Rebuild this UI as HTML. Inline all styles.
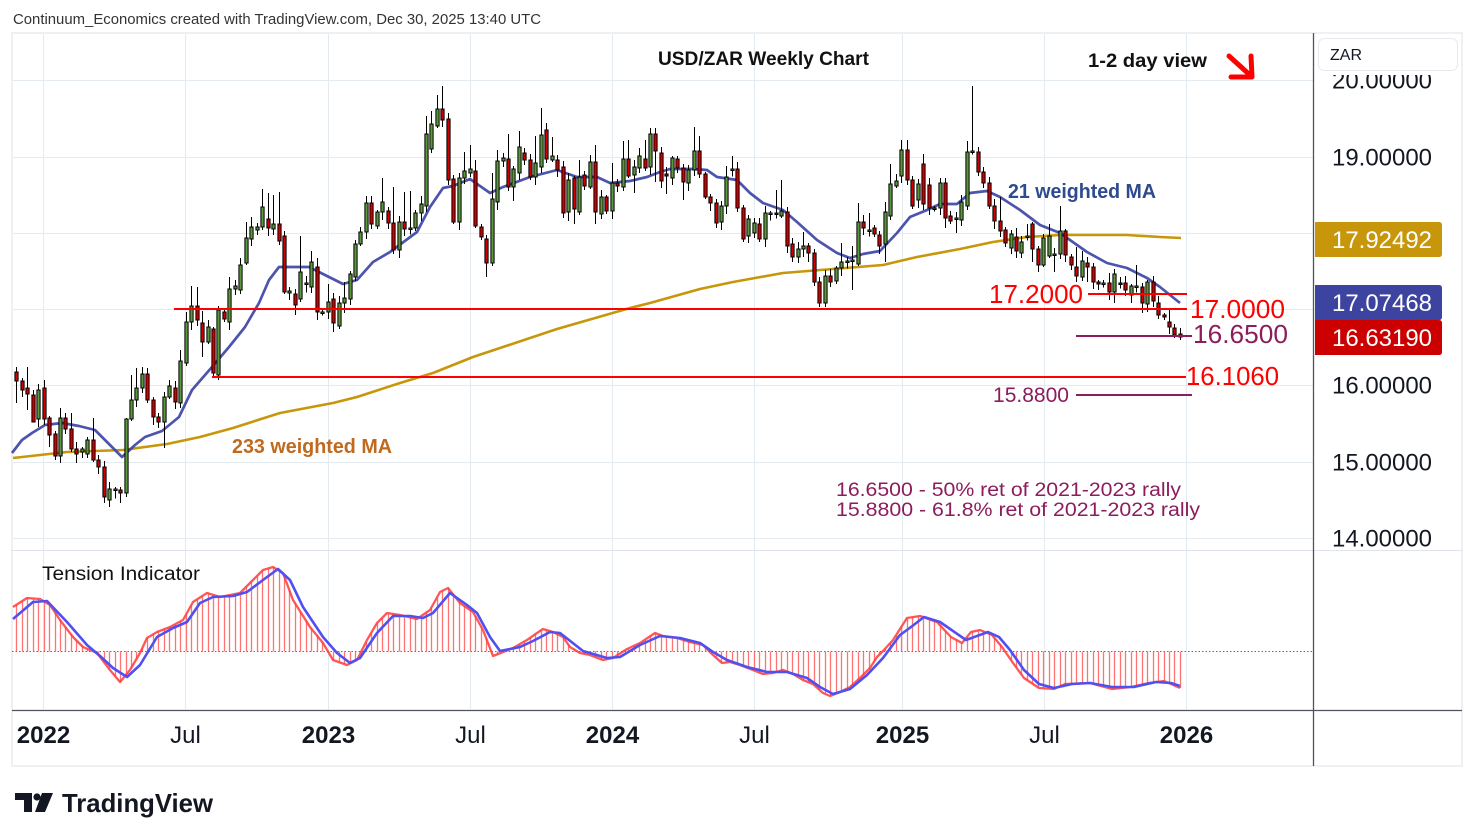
<!DOCTYPE html>
<html><head><meta charset="utf-8"><style>
html,body{margin:0;padding:0;background:#fff;}
svg{display:block;font-family:"Liberation Sans",Arial,sans-serif;}
</style></head><body>
<svg id="s" width="1474" height="840" viewBox="0 0 1474 840" xmlns="http://www.w3.org/2000/svg">
<rect width="1474" height="840" fill="#fff"/>
<rect x="12" y="33" width="1450" height="733" fill="none" stroke="#eef0f3" stroke-width="2"/>
<g stroke="#e3ebf1" stroke-width="1">
<line x1="13" y1="80.5" x2="1313" y2="80.5"/>
<line x1="13" y1="157.5" x2="1313" y2="157.5"/>
<line x1="13" y1="233.5" x2="1313" y2="233.5"/>
<line x1="13" y1="309.5" x2="1313" y2="309.5"/>
<line x1="13" y1="385.5" x2="1313" y2="385.5"/>
<line x1="13" y1="462.5" x2="1313" y2="462.5"/>
<line x1="13" y1="538.5" x2="1313" y2="538.5"/>
<line x1="43.5" y1="34" x2="43.5" y2="710"/>
<line x1="185.5" y1="34" x2="185.5" y2="710"/>
<line x1="328.5" y1="34" x2="328.5" y2="710"/>
<line x1="470.5" y1="34" x2="470.5" y2="710"/>
<line x1="612.5" y1="34" x2="612.5" y2="710"/>
<line x1="754.5" y1="34" x2="754.5" y2="710"/>
<line x1="902.5" y1="34" x2="902.5" y2="710"/>
<line x1="1044.5" y1="34" x2="1044.5" y2="710"/>
<line x1="1186.5" y1="34" x2="1186.5" y2="710"/>
</g>
<line x1="12" y1="550.5" x2="1462" y2="550.5" stroke="#e0e3eb" stroke-width="1"/>

<!-- moving averages -->
<polyline fill="none" stroke="#c8960a" stroke-width="2.6" stroke-linejoin="round" points="13,458 67,452 123,450 167,444 200,437 233,428 280,413 333,403 357,397 400,383 433,373 473,357 500,348 557,329 630,308 650,303 700,289 733,282 783,273 833,269 883,265 917,257 960,249 993,242 1027,237 1060,235 1093,235 1127,235 1160,237 1181,238"/>
<polyline fill="none" stroke="#3d45a5" stroke-opacity="0.92" stroke-width="2.7" stroke-linejoin="round" points="12,453 22,440 32,433 45,425 62,423 79,426 95,430 112,447 122,457 135,445 145,437 162,431 179,417 192,390 212,367 229,347 245,327 259,303 269,280 279,267 299,267 309,267 329,277 343,284 357,280 373,262 390,252 417,232 430,207 443,188 453,186 470,179 480,186 490,193 503,187 530,177 557,170 577,177 597,177 610,183 630,181 647,177 660,172 670,169 693,169 707,170 717,177 737,180 750,193 763,203 783,210 797,222 817,240 837,253 850,258 863,254 880,251 897,233 910,217 927,210 940,204 957,204 970,193 987,191 1000,197 1020,210 1040,225 1060,233 1087,252 1107,263 1127,268 1147,278 1160,287 1180,303"/>

<!-- candles -->
<path id="wk" fill="none" stroke="#000" stroke-width="1" d=""/>
<path id="gb" fill="#5b9a3c" stroke="#000" stroke-width="1" d=""/>
<path id="rb" fill="#d00000" stroke="#000" stroke-width="1" d=""/>

<!-- horizontal levels -->
<g stroke-width="2">
<line x1="174" y1="309" x2="1187" y2="309" stroke="#ff0000"/>
<line x1="212" y1="377" x2="1186" y2="377" stroke="#ff0000"/>
<line x1="1088" y1="294" x2="1187" y2="294" stroke="#ff0000"/>
<line x1="1076" y1="336" x2="1192" y2="336" stroke="#8c1d5c"/>
<line x1="1076" y1="395" x2="1192" y2="395" stroke="#8c1d5c"/>
</g>
<text x="989" y="303" font-size="26" fill="#ff0000" textLength="94" lengthAdjust="spacingAndGlyphs">17.2000</text>
<text x="1190" y="318" font-size="26" fill="#ff0000" textLength="95" lengthAdjust="spacingAndGlyphs">17.0000</text>
<text x="1193" y="343" font-size="26" fill="#8c1d5c" textLength="95" lengthAdjust="spacingAndGlyphs">16.6500</text>
<text x="1186" y="385" font-size="26" fill="#ff0000" textLength="93" lengthAdjust="spacingAndGlyphs">16.1060</text>
<text x="993" y="402" font-size="21" fill="#8c1d5c" textLength="76" lengthAdjust="spacingAndGlyphs">15.8800</text>

<!-- annotations -->
<text x="13" y="24" font-size="15" fill="#333" textLength="528" lengthAdjust="spacingAndGlyphs">Continuum_Economics created with TradingView.com, Dec 30, 2025 13:40 UTC</text>
<text x="658" y="65" font-size="19" font-weight="bold" fill="#111" textLength="211" lengthAdjust="spacingAndGlyphs">USD/ZAR Weekly Chart</text>
<text x="1088" y="67" font-size="19" font-weight="bold" fill="#111" textLength="119" lengthAdjust="spacingAndGlyphs">1-2 day view</text>
<g stroke="#ff0000" stroke-width="5" stroke-linecap="round" stroke-linejoin="round" fill="none">
<line x1="1229" y1="56" x2="1251" y2="76"/>
<polyline points="1251,56 1252,77 1231,77"/>
</g>
<text x="1008" y="198" font-size="20" font-weight="bold" fill="#2e4b8f" textLength="148" lengthAdjust="spacingAndGlyphs">21 weighted MA</text>
<text x="232" y="453" font-size="20" font-weight="bold" fill="#bf6a1f" textLength="160" lengthAdjust="spacingAndGlyphs">233 weighted MA</text>
<text x="836" y="496" font-size="19" fill="#8c1d5c" textLength="345" lengthAdjust="spacingAndGlyphs">16.6500 - 50% ret of 2021-2023 rally</text>
<text x="836" y="516" font-size="19" fill="#8c1d5c" textLength="364" lengthAdjust="spacingAndGlyphs">15.8800 - 61.8% ret of 2021-2023 rally</text>

<!-- tension indicator -->
<line x1="12" y1="651.5" x2="1313" y2="651.5" stroke="#ff3030" stroke-width="1" stroke-dasharray="1.5,2"/>
<path id="hb" fill="none" stroke="#ff5050" stroke-opacity="0.8" stroke-width="1.3" d=""/>
<polyline id="tr" fill="none" stroke="#ff3a3a" stroke-opacity="0.85" stroke-width="2.3" stroke-linejoin="round" points="13,607 27,598 40,599 50,605 60,620 73,637 83,647 97,653 110,670 120,682 130,670 140,653 147,638 157,632 170,627 183,620 193,602 207,593 220,597 240,593 253,580 263,570 273,567 283,573 293,600 310,627 323,643 333,660 347,665 357,660 367,640 377,623 387,613 400,615 417,619 430,610 440,592 448,588 460,603 473,612 483,630 493,656 503,652 513,648 527,640 537,633 543,629 553,632 563,637 570,647 580,653 590,655 603,660 613,658 627,649 640,643 655,633 663,636 677,638 690,642 703,645 713,655 722,663 730,662 740,665 753,670 763,674 773,673 783,670 793,674 803,680 813,684 823,693 830,696 840,692 850,687 860,678 870,668 877,657 883,651 893,640 907,618 920,616 937,622 951,637 962,643 971,632 980,630 992,635 1002,647 1013,663 1024,678 1039,688 1054,689 1065,684 1090,683 1112,689 1131,687 1149,683 1164,681 1180,688"/>
<polyline fill="none" stroke="#4f4ff2" stroke-width="2.6" stroke-linejoin="round" points="13,619 33,602 47,601 67,622 87,645 100,656 113,668 127,677 140,665 157,637 173,628 187,622 200,603 213,597 233,596 247,592 263,580 278,569 290,580 303,607 323,637 337,653 350,663 360,658 377,633 393,616 410,616 423,618 433,613 450,593 467,605 477,613 490,637 500,651 520,647 533,641 550,632 560,633 583,651 607,658 620,657 640,645 660,636 680,638 700,643 713,652 727,660 747,667 767,672 787,672 807,678 820,687 833,694 850,689 867,675 883,658 900,635 911,627 924,617 940,622 966,640 988,632 999,637 1010,650 1024,670 1039,684 1054,688 1072,684 1090,683 1112,687 1134,687 1156,682 1171,683 1180,686"/>
<text x="42" y="580" font-size="19" fill="#111" textLength="158" lengthAdjust="spacingAndGlyphs">Tension Indicator</text>

<!-- axes -->
<line x1="1313.5" y1="33" x2="1313.5" y2="766" stroke="#50535e" stroke-width="1.3"/>
<line x1="12" y1="710.5" x2="1462" y2="710.5" stroke="#50535e" stroke-width="1.3"/>

<g font-size="24" fill="#131722" text-anchor="middle">
<text x="43.5" y="743" font-weight="bold">2022</text>
<text x="185.5" y="743">Jul</text>
<text x="328.5" y="743" font-weight="bold">2023</text>
<text x="470.5" y="743">Jul</text>
<text x="612.5" y="743" font-weight="bold">2024</text>
<text x="754.5" y="743">Jul</text>
<text x="902.5" y="743" font-weight="bold">2025</text>
<text x="1044.5" y="743">Jul</text>
<text x="1186.5" y="743" font-weight="bold">2026</text>
</g>

<g font-size="24" fill="#131722">
<text x="1332" y="88.5" textLength="100" lengthAdjust="spacingAndGlyphs">20.00000</text>
<text x="1332" y="165.5" textLength="100" lengthAdjust="spacingAndGlyphs">19.00000</text>
<text x="1332" y="393.5" textLength="100" lengthAdjust="spacingAndGlyphs">16.00000</text>
<text x="1332" y="470.5" textLength="100" lengthAdjust="spacingAndGlyphs">15.00000</text>
<text x="1332" y="546.5" textLength="100" lengthAdjust="spacingAndGlyphs">14.00000</text>
</g>
<rect x="1316" y="36" width="144" height="39" fill="#fff"/>
<rect x="1318.5" y="38.5" width="139" height="32" rx="6" fill="#fff" stroke="#e6e8ee"/>
<text x="1330" y="60" font-size="16" fill="#131722">ZAR</text>

<path d="M1315,222 H1439 Q1442,222 1442,225 V254 Q1442,257 1439,257 H1315 Z" fill="#c8960a"/>
<path d="M1315,285 H1439 Q1442,285 1442,288 V317 Q1442,320 1439,320 H1315 Z" fill="#3d44a0"/>
<path d="M1315,320 H1439 Q1442,320 1442,323 V352 Q1442,355 1439,355 H1315 Z" fill="#cc0000"/>
<g font-size="24" fill="#fff">
<text x="1332" y="248" textLength="100" lengthAdjust="spacingAndGlyphs">17.92492</text>
<text x="1332" y="311" textLength="100" lengthAdjust="spacingAndGlyphs">17.07468</text>
<text x="1332" y="346" textLength="100" lengthAdjust="spacingAndGlyphs">16.63190</text>
</g>

<!-- logo -->
<g fill="#131722">
<path d="M15,793 H32 V812 H24 V800 H15 Z"/>
<circle cx="37" cy="797" r="3.6"/>
<path d="M42,793 H53 L45,812 H35 Z"/>
<text x="62" y="812" font-size="26" font-weight="bold" textLength="151" lengthAdjust="spacingAndGlyphs">TradingView</text>
</g>
</svg>
<script>
(function(){
var C=[[372,381,'r'],[381,390,'r'],[388,394,'r'],[395,422,'r'],[390,419,'g'],[388,419,'r'],[418,435,'r'],[434,456,'r'],[418,456,'g'],[418,429,'r'],
[429,449,'r'],[449,454,'r'],[449,452,'g'],[440,454,'g'],[440,460,'r'],[460,467,'r'],[467,497,'r'],[489,500,'g'],[489,490,'g'],[490,493,'r'],
[419,493,'g'],[400,419,'g'],[388,400,'g'],[374,388,'g'],[374,400,'r'],[400,417,'r'],[417,422,'r'],[397,422,'g'],[386,397,'g'],[388,402,'r'],
[361,403,'g'],[322,363,'g'],[306,322,'g'],[306,320,'r'],[323,342,'r'],[327,342,'g'],[329,373,'r'],[310,375,'g'],[312,319,'r'],[289,322,'g'],
[286,289,'g'],[265,290,'g'],[238,263,'g'],[227,239,'g'],[227,230,'g'],[207,227,'g'],[219,228,'r'],[224,229,'g'],[224,241,'r'],[236,292,'r'],
[291,293,'g'],[294,305,'r'],[272,299,'g'],[283,284,'g'],[262,287,'g'],[267,312,'r'],[312,313,'g'],[302,312,'g'],[299,323,'r'],[303,326,'g'],
[298,303,'g'],[274,299,'g'],[244,277,'g'],[232,244,'g'],[203,232,'g'],[203,224,'r'],[212,226,'g'],[202,212,'g'],[211,223,'r'],[223,250,'r'],
[222,250,'g'],[222,229,'r'],[228,229,'g'],[213,228,'g'],[204,213,'g'],[134,206,'g'],[124,149,'g'],[109,126,'g'],[109,120,'r'],[119,180,'r'],
[179,222,'r'],[178,222,'g'],[171,178,'g'],[169,173,'g'],[171,226,'r'],[227,237,'r'],[239,263,'r'],[199,263,'g'],[161,202,'g'],[158,161,'g'],
[159,187,'r'],[169,187,'g'],[147,173,'g'],[153,160,'r'],[160,177,'r'],[163,177,'g'],[135,167,'g'],[130,159,'r'],[156,160,'g'],[160,170,'r'],
[167,213,'r'],[180,212,'g'],[178,209,'r'],[177,212,'g'],[175,186,'r'],[162,187,'g'],[162,212,'r'],[197,214,'g'],[197,211,'r'],[183,211,'g'],
[183,186,'r'],[159,187,'g'],[159,176,'r'],[167,175,'g'],[156,168,'g'],[159,168,'r'],[134,167,'g'],[134,151,'r'],[153,181,'r'],[174,176,'r'],
[158,178,'g'],[159,168,'r'],[168,182,'r'],[170,183,'g'],[151,170,'g'],[151,174,'r'],[174,197,'r'],[197,203,'r'],[203,223,'r'],[206,222,'g'],
[177,206,'g'],[169,170,'g'],[169,208,'r'],[208,239,'r'],[219,236,'g'],[223,233,'g'],[224,239,'r'],[213,239,'g'],[213,214,'g'],[213,214,'r'],
[211,216,'g'],[212,246,'r'],[244,257,'r'],[249,257,'g'],[246,249,'g'],[246,253,'r'],[253,282,'r'],[282,303,'r'],[276,303,'g'],[276,282,'r'],
[268,281,'g'],[262,268,'g'],[261,262,'g'],[260,261,'g'],[222,264,'g'],[222,228,'r'],[230,231,'g'],[228,234,'r'],[235,246,'r'],[212,244,'g'],
[184,216,'g'],[181,186,'g'],[150,176,'g'],[150,180,'r'],[180,206,'r'],[184,200,'g'],[164,204,'r'],[185,208,'r'],[208,209,'g'],[183,208,'g'],
[183,218,'r'],[216,221,'r'],[218,219,'g'],[202,220,'g'],[152,206,'g'],[151,152,'g'],[152,172,'r'],[172,183,'r'],[183,206,'r'],[206,221,'r'],
[221,231,'r'],[230,243,'r'],[234,248,'g'],[237,251,'r'],[242,253,'g'],[236,237,'g'],[224,249,'r'],[249,265,'r'],[238,265,'g'],[236,256,'g'],
[254,255,'g'],[231,254,'g'],[231,255,'r'],[257,265,'r'],[267,276,'r'],[261,277,'g'],[263,267,'r'],[267,282,'r'],[282,284,'r'],[283,284,'g'],
[283,292,'r'],[274,292,'g'],[283,284,'r'],[283,290,'r'],[286,295,'g'],[286,287,'g'],[287,303,'r'],[282,304,'g'],[282,301,'r'],[303,315,'r'],
[315,317,'r'],[322,327,'r'],[328,335,'r'],[334,337,'r']];
var W={1:[367,403],3:[367,410],4:[0,410],6:[380,0],7:[0,447],8:[0,460],9:[408,0],11:[413,0],12:[0,463],15:[418,0],17:[0,503],18:[0,507],20:[0,503],
21:[418,0],22:[375,0],23:[368,0],25:[368,0],28:[0,448],31:[350,0],32:[312,0],33:[286,0],34:[287,0],35:[311,357],37:[0,377],38:[306,0],40:[277,0],
43:[222,0],44:[217,0],46:[189,0],47:[193,0],48:[195,0],49:[192,0],50:[231,0],52:[0,315],53:[236,0],55:[251,0],56:[258,320],58:[284,0],59:[0,332],
61:[282,313],65:[196,0],66:[196,0],68:[178,0],70:[187,0],71:[0,258],72:[192,0],73:[191,0],75:[196,0],76:[116,0],77:[111,0],78:[95,0],79:[86,0],80:[113,0],
81:[0,224],83:[152,0],84:[145,0],85:[160,0],86:[0,240],87:[0,277],88:[173,266],89:[150,0],90:[153,0],91:[134,0],92:[0,201],93:[131,0],96:[136,0],97:[108,0],
98:[123,0],99:[137,0],101:[0,218],102:[0,221],103:[0,224],104:[160,215],106:[155,0],107:[145,224],110:[163,0],112:[141,0],113:[140,0],114:[0,193],
115:[148,0],116:[140,0],117:[128,0],118:[128,182],119:[0,188],120:[0,194],123:[0,200],125:[127,0],126:[136,0],128:[0,211],130:[0,230],131:[166,0],
132:[156,0],133:[162,0],134:[0,242],140:[190,0],141:[180,0],143:[0,262],144:[0,263],145:[232,0],146:[0,262],148:[0,307],149:[0,307],152:[243,0],
154:[246,290],155:[203,0],157:[213,0],160:[202,262],161:[164,0],163:[140,0],164:[140,0],167:[154,0],168:[0,215],170:[178,0],171:[178,228],173:[0,233],
175:[141,0],176:[86,0],177:[147,176],181:[197,0],183:[0,254],184:[228,258],185:[0,258],186:[224,0],187:[0,262],188:[0,272],189:[0,267],190:[224,0],
191:[0,272],192:[206,0],193:[0,262],194:[0,270],195:[247,0],196:[251,0],197:[0,282],198:[263,0],199:[0,290],201:[273,0],202:[0,303],204:[0,296],
205:[0,303],206:[265,0],207:[0,313],208:[280,0],211:[0,320],212:[310,0],213:[0,338],214:[328,340]};
var wk='',gb='',rb='',hb='';
var tp=document.getElementById('tr').getAttribute('points').trim().split(/\s+/).map(function(p){var a=p.split(',');return [+a[0],+a[1]];});
function interp(x){for(var i=1;i<tp.length;i++){if(x<=tp[i][0]){var a=tp[i-1],b=tp[i];var t=(x-a[0])/(b[0]-a[0]);return a[1]+t*(b[1]-a[1]);}}return tp[tp.length-1][1];}
for(var k=0;k<C.length;k++){
 var item=k+1, x=16.3+k*5.463, xr=Math.round(x)+0.5;
 var t=C[k][0], b=C[k][1], col=C[k][2];
 if(b-t<1.5) b=t+1.5;
 var hi=t-(2+(k*7)%6), lo=b+(2+(k*5)%7);
 if(W[item]){ if(W[item][0]) hi=W[item][0]; if(W[item][1]) lo=W[item][1]; }
 wk+='M'+xr+','+hi+'V'+lo;
 var r='M'+(xr-1.6)+','+t+'h3.2v'+(b-t)+'h-3.2z';
 if(col=='g') gb+=r; else rb+=r;
 var v=interp(x);
 hb+='M'+xr+',651.5V'+v.toFixed(1);
}
document.getElementById('wk').setAttribute('d',wk);
document.getElementById('gb').setAttribute('d',gb);
document.getElementById('rb').setAttribute('d',rb);
document.getElementById('hb').setAttribute('d',hb);
})();
</script>
</body></html>
